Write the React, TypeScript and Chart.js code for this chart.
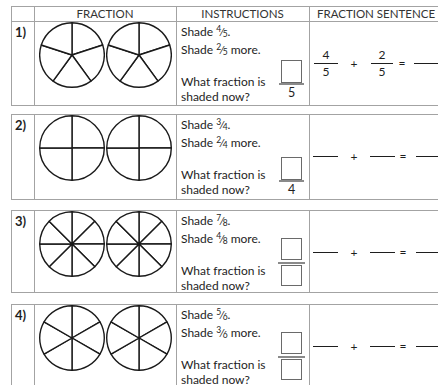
import React, { useEffect, useRef } from "react";
import { Chart, registerables } from "chart.js";

Chart.register(...registerables);

// ---- data ----
const headers = ["FRACTION", "INSTRUCTIONS", "FRACTION SENTENCE"];
const problemLabels = ["1)", "2)", "3)", "4)"];
const denominators = [5, 4, 8, 6];
const firstNumerators = [4, 3, 7, 5];
const secondNumerators = [2, 2, 4, 3];
const pieSlices = [
  [1, 1, 1, 1, 1],
  [1, 1, 1, 1],
  [1, 1, 1, 1, 1, 1, 1, 1],
  [1, 1, 1, 1, 1, 1],
];
const shownAnswerDenominators = ["5", "4", "", ""];
const sentenceFilled = [true, false, false, false];
const questionLines = ["What fraction is", "shaded now?"];

// ---- layout ----
const ROW_TOPS = [21, 114, 210, 304];
const ROW_BOTTOMS = [105, 199, 292, 420];
const X_LEFT = 11;
const X_NUM = 34;
const X_FRAC = 176;
const X_INSTR = 309;
const X_RIGHT = 443;
const BORDER = "#a3a3a3";
const INK = "#1e1e1e";
const FONT = "Lato, 'Open Sans', sans-serif";

function Pie({ slices, left, top }: { slices: number[]; left: number; top: number }) {
  const ref = useRef<HTMLCanvasElement>(null);
  useEffect(() => {
    const chart = new Chart(ref.current!, {
      type: "pie",
      data: {
        labels: slices.map((_, i) => `Part ${i + 1}`),
        datasets: [
          {
            data: slices,
            backgroundColor: "#ffffff",
            borderColor: "#1a1a1a",
            borderWidth: 1.4,
          },
        ],
      },
      options: {
        animation: false,
        responsive: false,
        maintainAspectRatio: false,
        events: [],
        layout: { padding: 0 },
        plugins: { legend: { display: false }, tooltip: { enabled: false } },
      },
    });
    return () => chart.destroy();
  }, [slices]);
  return (
    <canvas
      ref={ref}
      width={66}
      height={66}
      style={{ position: "absolute", left, top, width: 66, height: 66 }}
    />
  );
}

function Frac({ n, d }: { n: number; d: number }) {
  return (
    <span style={{ whiteSpace: "nowrap" }}>
      <span style={{ fontSize: 8.5, position: "relative", top: -4 }}>{n}</span>
      <span style={{ fontSize: 10.5 }}>⁄</span>
      <span style={{ fontSize: 8.5, position: "relative", top: 1 }}>{d}</span>
    </span>
  );
}

function abs(left: number, top: number, extra: React.CSSProperties = {}): React.CSSProperties {
  return { position: "absolute", left, top, ...extra };
}

function Row({ i }: { i: number }) {
  const top = ROW_TOPS[i];
  const bottom = ROW_BOTTOMS[i];
  const h = bottom - top;
  const d = denominators[i];
  const textLine = (y: number, content: React.ReactNode, key: string) => (
    <div key={key} style={abs(181, top + y - 7, { lineHeight: "14px", fontSize: 12, whiteSpace: "nowrap" })}>
      {content}
    </div>
  );
  const twoBoxes = shownAnswerDenominators[i] === "";
  const boxTopOff = i === 0 ? 39 : 43;
  return (
    <>
      {/* box */}
      {i > 0 && (
        <div
          style={abs(X_LEFT, top, {
            width: X_RIGHT - X_LEFT,
            height: h + 1,
            border: `1px solid ${BORDER}`,
            boxSizing: "border-box",
          })}
        />
      )}
      {[X_NUM, X_FRAC, X_INSTR].map((x) => (
        <div key={x} style={abs(x, top, { width: 1, height: h, background: BORDER })} />
      ))}
      {/* number */}
      <div style={abs(15, top + 11 - 7, { lineHeight: "14px", fontSize: 13, fontWeight: 700 })}>
        {problemLabels[i]}
      </div>
      {/* circles */}
      <Pie slices={pieSlices[i]} left={39} top={top + 1} />
      <Pie slices={pieSlices[i]} left={106} top={top + 1} />
      {/* instructions */}
      {textLine(11, <>Shade <Frac n={firstNumerators[i]} d={d} />.</>, "l1")}
      {textLine(29, <>Shade <Frac n={secondNumerators[i]} d={d} /> more.</>, "l2")}
      {textLine(61, questionLines[0], "l3")}
      {textLine(76, questionLines[1], "l4")}
      {/* answer box */}
      {!twoBoxes ? (
        <>
          <div
            style={abs(281, top + boxTopOff, {
              width: 21,
              height: 23,
              border: "1px solid #6a6a6a",
              boxSizing: "border-box",
            })}
          />
          <div style={abs(279, top + boxTopOff + 23, { width: 25, height: 2, background: "#8a8a8a" })} />
          <div
            style={abs(279, top + boxTopOff + 26, {
              width: 25,
              textAlign: "center",
              fontSize: 12.5,
              lineHeight: "14px",
            })}
          >
            {shownAnswerDenominators[i]}
          </div>
        </>
      ) : (
        <>
          <div
            style={abs(281, top + 28, { width: 21, height: 22, border: "1px solid #6a6a6a", boxSizing: "border-box" })}
          />
          <div style={abs(278, top + 52, { width: 27, height: 2, background: "#8a8a8a" })} />
          <div
            style={abs(281, top + 55, { width: 21, height: 21, border: "1px solid #6a6a6a", boxSizing: "border-box" })}
          />
        </>
      )}
      {/* fraction sentence */}
      {sentenceFilled[i] ? (
        <>
          <div style={abs(314, top + 34 - 7, { width: 24, textAlign: "center", fontSize: 12, lineHeight: "14px" })}>
            {firstNumerators[i]}
          </div>
          <div style={abs(314, top + 42, { width: 24, height: 1, background: INK })} />
          <div style={abs(314, top + 51 - 7, { width: 24, textAlign: "center", fontSize: 12, lineHeight: "14px" })}>
            {d}
          </div>
          <div style={abs(349, top + 43 - 7, { width: 10, textAlign: "center", fontSize: 12, lineHeight: "14px" })}>+</div>
          <div style={abs(371, top + 34 - 7, { width: 22, textAlign: "center", fontSize: 12, lineHeight: "14px" })}>
            {secondNumerators[i]}
          </div>
          <div style={abs(371, top + 42, { width: 22, height: 1, background: INK })} />
          <div style={abs(371, top + 51 - 7, { width: 22, textAlign: "center", fontSize: 12, lineHeight: "14px" })}>
            {d}
          </div>
          <div style={abs(397, top + 42 - 7, { width: 10, textAlign: "center", fontSize: 12, lineHeight: "14px" })}>=</div>
          <div style={abs(414, top + 42, { width: 30, height: 1, background: INK })} />
        </>
      ) : (
        <>
          <div style={abs(313, top + 42, { width: 25, height: 1, background: INK })} />
          <div style={abs(349, top + 43 - 7, { width: 10, textAlign: "center", fontSize: 12, lineHeight: "14px" })}>+</div>
          <div style={abs(370, top + 42, { width: 25, height: 1, background: INK })} />
          <div style={abs(398, top + 42 - 7, { width: 10, textAlign: "center", fontSize: 12, lineHeight: "14px" })}>=</div>
          <div style={abs(416, top + 42, { width: 30, height: 1, background: INK })} />
        </>
      )}
    </>
  );
}

export default function App() {
  return (
    <div
      style={{
        position: "fixed",
        left: 0,
        top: 0,
        width: 438,
        height: 385,
        overflow: "hidden",
        background: "#ffffff",
        fontFamily: FONT,
        color: INK,
      }}
    >
      {/* header + row 1 box */}
      <div
        style={abs(X_LEFT, 6, {
          width: X_RIGHT - X_LEFT,
          height: ROW_BOTTOMS[0] - 6 + 1,
          border: `1px solid ${BORDER}`,
          boxSizing: "border-box",
        })}
      />
      <div style={abs(X_LEFT, 21, { width: X_RIGHT - X_LEFT, height: 1, background: BORDER })} />
      {[X_NUM, X_FRAC, X_INSTR].map((x) => (
        <div key={x} style={abs(x, 6, { width: 1, height: 15, background: BORDER })} />
      ))}
      {[
        [X_NUM, X_FRAC],
        [X_FRAC, X_INSTR],
        [X_INSTR, X_RIGHT],
      ].map(([a, b], k) => (
        <div
          key={k}
          style={abs(a, 7, { width: b - a, textAlign: "center", fontSize: 11.5, lineHeight: "14px", color: "#333" })}
        >
          {headers[k]}
        </div>
      ))}
      {ROW_TOPS.map((_, i) => (
        <Row key={i} i={i} />
      ))}
    </div>
  );
}
